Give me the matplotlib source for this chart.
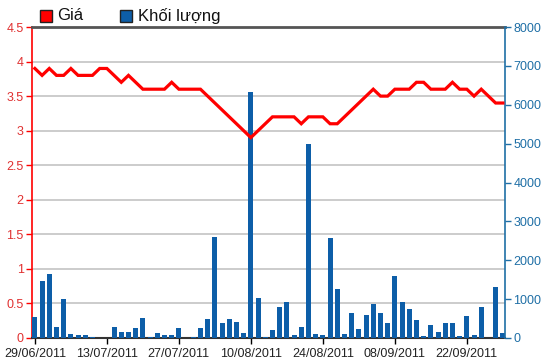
import matplotlib
matplotlib.use("Agg")
import matplotlib.pyplot as plt
from matplotlib.patches import Rectangle

price = [3.9, 3.8, 3.9, 3.8, 3.8, 3.9, 3.8, 3.8, 3.8, 3.9,
         3.9, 3.8, 3.7, 3.8, 3.7, 3.6, 3.6, 3.6, 3.6, 3.7,
         3.6, 3.6, 3.6, 3.6, 3.5, 3.4, 3.3, 3.2, 3.1, 3.0,
         2.9, 3.0, 3.1, 3.2, 3.2, 3.2, 3.2, 3.1, 3.2, 3.2,
         3.2, 3.1, 3.1, 3.2, 3.3, 3.4, 3.5, 3.6, 3.5, 3.5,
         3.6, 3.6, 3.6, 3.7, 3.7, 3.6, 3.6, 3.6, 3.7, 3.6,
         3.6, 3.5, 3.6, 3.5, 3.4, 3.4]
volume = [548, 1474, 1646, 283, 995, 103, 69, 69, 34, 0,
          0, 283, 163, 163, 257, 514, 34, 129, 69, 69,
          257, 0, 34, 257, 480, 2600, 386, 480, 420, 129,
          6330, 1029, 34, 197, 800, 930, 69, 283, 4980, 103,
          69, 2580, 1260, 103, 643, 231, 600, 870, 643, 386,
          1600, 930, 745, 454, 43, 334, 154, 386, 386, 43,
          557, 69, 797, 0, 1300, 129]
tick_idx = [0, 10, 20, 30, 40, 50, 60]
tick_labels = ["29/06/2011", "13/07/2011", "27/07/2011", "10/08/2011",
               "24/08/2011", "08/09/2011", "22/09/2011"]
price_ticks = [0, 0.5, 1, 1.5, 2, 2.5, 3, 3.5, 4, 4.5]
price_tick_labels = ["0", "0.5", "1", "1.5", "2", "2.5", "3", "3.5", "4", "4.5"]
vol_ticks = [0, 1000, 2000, 3000, 4000, 5000, 6000, 7000, 8000]

RED = "#ff0000"
BLUE = "#0d5ea8"
BLUE_TXT = "#1f6fa6"
FONT = "Liberation Sans"

plt.rcParams['font.family'] = [FONT, 'DejaVu Sans']

fig = plt.figure(figsize=(5.5, 3.64), dpi=100)
ax = fig.add_axes([32/550, 26/364, 473/550, 311/364])
x = list(range(len(price)))

ax.set_xlim(-0.4, 65.3)
ax.set_ylim(0, 4.5)
ax.set_yticks(price_ticks)
ax.set_yticklabels(price_tick_labels)
ax.grid(axis='y', color='#c8c8c8', linewidth=1.3)
ax.set_axisbelow(True)
ax.tick_params(axis='y', colors=RED, labelcolor='#e03030', length=4, width=1,
               labelsize=9, pad=2)
ax.set_xticks(tick_idx)
ax.set_xticklabels(tick_labels)
ax.tick_params(axis='x', colors='black', labelcolor='#222222', length=4, width=1,
               labelsize=9, pad=3)

ax2 = ax.twinx()
ax2.set_ylim(0, 8000)
ax2.set_yticks(vol_ticks)
ax2.set_yticklabels([str(v) for v in vol_ticks])
ax2.bar(x, volume, width=0.7, color=BLUE, zorder=2)
ax2.tick_params(axis='y', colors=BLUE_TXT, labelcolor=BLUE_TXT, length=4,
                width=1, labelsize=9, pad=2)

ax3 = ax.twinx()
ax3.set_ylim(0, 4.5)
ax3.plot(x, price, color=RED, linewidth=2.3, solid_joinstyle='miter', zorder=5)
ax3.axis('off')

for a in (ax, ax2):
    for s in a.spines.values():
        s.set_visible(False)
ax.spines['left'].set_visible(True)
ax.spines['left'].set_color(RED)
ax.spines['left'].set_linewidth(1.2)
ax.spines['bottom'].set_visible(True)
ax.spines['bottom'].set_color('#333333')
ax.spines['bottom'].set_linewidth(1.5)
ax.spines['top'].set_visible(True)
ax.spines['top'].set_color('#555555')
ax.spines['top'].set_linewidth(2)
ax2.spines['right'].set_visible(True)
ax2.spines['right'].set_color(BLUE_TXT)
ax2.spines['right'].set_linewidth(1.2)

# legend
fig.patches.append(Rectangle((40/550, (364-22)/364), 12/550, 12/364,
                             transform=fig.transFigure, facecolor=RED,
                             edgecolor='#222222', linewidth=1))
fig.text(57/550, (364-16)/364, "Giá", fontsize=12, va='center', ha='left',
         color='#111111')
fig.patches.append(Rectangle((120/550, (364-22)/364), 12/550, 12/364,
                             transform=fig.transFigure, facecolor=BLUE,
                             edgecolor='#222222', linewidth=1))
fig.text(138/550, (364-16)/364, "Khối lượng", fontsize=12, va='center',
         ha='left', color='#111111')

fig.savefig("out.png", dpi=100)
